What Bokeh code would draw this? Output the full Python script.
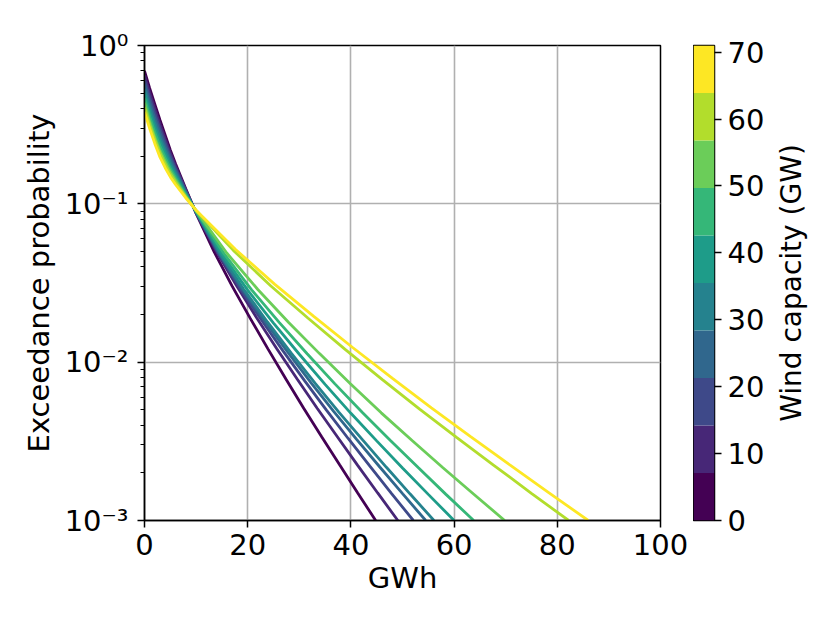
import math
from bokeh.plotting import figure
from bokeh.layouts import row
from bokeh.models import FixedTicker, CustomJSTickFormatter, Range1d
from bokeh.palettes import Viridis10
from bokeh.core.properties import value
from bokeh.embed import file_html
from bokeh.resources import INLINE

# ---------------- data ----------------
# colour-bar scale: wind capacity (GW), 10 equal bins from 0 to 71
cbar_low = 0.0
cbar_high = 71.0
cbar_ticks = [0, 10, 20, 30, 40, 50, 60, 70]

x_ticks = [0, 20, 40, 60, 80, 100]
y_ticks = [0.001, 0.01, 0.1, 1]

# energy (GWh) and log10(exceedance probability) for each of the 10 curves
gwh_0 = [0, 1, 2, 3, 4, 5, 6, 8, 10, 13.48, 16.96, 20.44, 23.92, 27.4, 30.88, 34.36, 37.84, 41.32, 44.8]
lp_0 = [-0.16, -0.27, -0.37, -0.47, -0.565, -0.66, -0.745, -0.905, -1.06, -1.302, -1.518, -1.720, -1.916, -2.106, -2.292, -2.472, -2.650, -2.826, -3.0]

gwh_1 = [0, 1, 2, 3, 4, 5, 6, 8, 10, 13.91, 17.82, 21.73, 25.64, 29.55, 33.46, 37.37, 41.28, 45.19, 49.1]
lp_1 = [-0.189, -0.30, -0.40, -0.498, -0.589, -0.679, -0.76, -0.912, -1.058, -1.300, -1.516, -1.719, -1.915, -2.105, -2.291, -2.471, -2.650, -2.826, -3.0]

gwh_2 = [0, 1, 2, 3, 4, 5, 6, 8, 10, 14.21, 18.42, 22.63, 26.84, 31.05, 35.26, 39.47, 43.68, 47.89, 52.1]
lp_2 = [-0.218, -0.33, -0.43, -0.525, -0.613, -0.699, -0.775, -0.918, -1.056, -1.307, -1.529, -1.732, -1.929, -2.118, -2.303, -2.482, -2.657, -2.830, -3.0]

gwh_3 = [0, 1, 2, 3, 4, 5, 6, 8, 10, 14.45, 18.9, 23.35, 27.8, 32.25, 36.7, 41.15, 45.6, 50.05, 54.5]
lp_3 = [-0.247, -0.36, -0.46, -0.553, -0.637, -0.718, -0.79, -0.925, -1.053, -1.312, -1.536, -1.742, -1.939, -2.129, -2.312, -2.489, -2.662, -2.832, -3.0]

gwh_4 = [0, 1, 2, 3, 4, 5, 6, 8, 10, 14.61, 19.22, 23.83, 28.44, 33.05, 37.66, 42.27, 46.88, 51.49, 56.1]
lp_4 = [-0.276, -0.39, -0.49, -0.581, -0.66, -0.738, -0.805, -0.932, -1.051, -1.313, -1.540, -1.746, -1.943, -2.132, -2.315, -2.491, -2.664, -2.833, -3.0]

gwh_5 = [0, 1, 2, 3, 4, 5, 6, 8, 10, 15, 20, 25, 30, 35, 40, 45, 50, 55, 60]
lp_5 = [-0.304, -0.42, -0.52, -0.609, -0.684, -0.757, -0.82, -0.938, -1.049, -1.317, -1.545, -1.753, -1.950, -2.140, -2.323, -2.497, -2.668, -2.835, -3.0]

gwh_6 = [0, 1, 2, 3, 4, 5, 6, 8, 10, 15.38, 20.76, 26.14, 31.52, 36.9, 42.28, 47.66, 53.04, 58.42, 63.8]
lp_6 = [-0.333, -0.45, -0.55, -0.637, -0.708, -0.777, -0.835, -0.945, -1.047, -1.313, -1.543, -1.750, -1.947, -2.137, -2.320, -2.495, -2.666, -2.835, -3.0]

gwh_7 = [0, 1, 2, 3, 4, 5, 6, 8, 10, 15.98, 21.96, 27.94, 33.92, 39.9, 45.88, 51.86, 57.84, 63.82, 69.8]
lp_7 = [-0.362, -0.48, -0.58, -0.664, -0.732, -0.796, -0.85, -0.952, -1.044, -1.312, -1.541, -1.749, -1.946, -2.136, -2.320, -2.495, -2.667, -2.834, -3.0]

gwh_8 = [0, 1, 2, 3, 4, 5, 6, 8, 10, 17.22, 24.44, 31.66, 38.88, 46.1, 53.32, 60.54, 67.76, 74.98, 82.2]
lp_8 = [-0.391, -0.50, -0.595, -0.68, -0.75, -0.812, -0.862, -0.957, -1.042, -1.294, -1.517, -1.721, -1.919, -2.110, -2.297, -2.477, -2.653, -2.828, -3.0]

gwh_9 = [0, 1, 2, 3, 4, 5, 6, 8, 10, 17.6, 25.2, 32.8, 40.4, 48, 55.6, 63.2, 70.8, 78.4, 86]
lp_9 = [-0.42, -0.525, -0.62, -0.705, -0.772, -0.83, -0.878, -0.963, -1.04, -1.287, -1.507, -1.711, -1.909, -2.101, -2.288, -2.470, -2.649, -2.825, -3.0]

curves_x = [gwh_0, gwh_1, gwh_2, gwh_3, gwh_4, gwh_5, gwh_6, gwh_7, gwh_8, gwh_9]
curves_lp = [lp_0, lp_1, lp_2, lp_3, lp_4, lp_5, lp_6, lp_7, lp_8, lp_9]
palette = list(Viridis10)

# ---------------- styling ----------------
FONT = "DejaVu Sans"
FS = "29px"
H = 608
TOP = 45
BOT = 88

p = figure(width=693, height=H, output_backend="svg", toolbar_location=None,
           y_axis_type="log", x_range=Range1d(0, 100), y_range=Range1d(0.001, 1))
p.min_border_left = 144
p.min_border_right = 33
p.min_border_top = TOP
p.min_border_bottom = BOT
p.background_fill_color = "white"
p.border_fill_color = "white"
p.outline_line_color = "black"
p.outline_line_width = 1.5
p.outline_line_alpha = 1.0

for xs, lps, col in zip(curves_x, curves_lp, palette):
    ys = [10 ** v for v in lps]
    p.line(xs, ys, line_color=col, line_width=2.8)

p.xaxis.ticker = FixedTicker(ticks=x_ticks)
minor = []
for d in [0.001, 0.01, 0.1]:
    for k in range(2, 10):
        minor.append(d * k)
p.yaxis.ticker = FixedTicker(ticks=y_ticks, minor_ticks=minor)
p.yaxis.formatter = CustomJSTickFormatter(code="""
const e = Math.round(Math.log10(tick));
const sup = {"0":"\u2070","1":"\u00b9","2":"\u00b2","3":"\u00b3","4":"\u2074","-":"\u207b"};
return "10" + String(e).split("").map(c => sup[c]).join("");
""")

p.xgrid.ticker = FixedTicker(ticks=x_ticks)
p.ygrid.ticker = FixedTicker(ticks=y_ticks)
p.grid.grid_line_color = "#b0b0b0"
p.grid.grid_line_width = 1.6

for ax in [p.xaxis[0], p.yaxis[0]]:
    ax.major_label_text_font = FONT
    ax.major_label_text_font_size = FS
    ax.major_label_text_color = "black"
    ax.axis_label_text_font = FONT
    ax.axis_label_text_font_size = FS
    ax.axis_label_text_font_style = "normal"
    ax.axis_label_text_color = "black"
    ax.axis_line_color = "black"
    ax.axis_line_width = 1.5
    ax.major_tick_line_color = "black"
    ax.major_tick_line_width = 1.5
    ax.major_tick_out = 7
    ax.major_tick_in = 0
    ax.minor_tick_line_color = "black"
    ax.minor_tick_line_width = 1.2
    ax.minor_tick_out = 4
    ax.minor_tick_in = 0
    ax.major_label_standoff = 6

p.xaxis.minor_tick_line_color = None
p.xaxis.axis_label = "GWh"
p.xaxis.axis_label_standoff = 3
p.yaxis.major_label_standoff = 9
p.yaxis.axis_label = "Exceedance probability"
p.yaxis.axis_label_standoff = 6

# ---------------- colour bar ----------------
cb = figure(width=74, height=H, output_backend="svg", toolbar_location=None,
            x_range=Range1d(0, 1), y_range=Range1d(cbar_low, cbar_high),
            x_axis_location=None, y_axis_location="right")
cb.min_border_left = 0
cb.min_border_right = 50
cb.min_border_top = TOP
cb.min_border_bottom = BOT
cb.grid.visible = False
cb.outline_line_color = "black"
cb.outline_line_width = 1.5
n = len(palette)
step = (cbar_high - cbar_low) / n
bottoms = [cbar_low + k * step for k in range(n)]
tops = [cbar_low + (k + 1) * step for k in range(n)]
cb.quad(left=0, right=1, bottom=bottoms, top=tops, fill_color=palette, line_color=None)
cax = cb.yaxis[0]
cax.ticker = FixedTicker(ticks=cbar_ticks)
cax.major_label_text_font = FONT
cax.major_label_text_font_size = FS
cax.major_label_text_color = "black"
cax.axis_line_color = None
cax.major_tick_line_color = "black"
cax.major_tick_line_width = 1.5
cax.major_tick_out = 7
cax.major_tick_in = 0
cax.minor_tick_line_color = None
cax.major_label_standoff = 6

# ---------------- colour-bar title ----------------
tf = figure(width=48, height=H, output_backend="svg", toolbar_location=None,
            x_range=Range1d(0, 1), y_range=Range1d(0, 1),
            x_axis_location=None, y_axis_location=None)
tf.min_border_left = 0
tf.min_border_right = 0
tf.min_border_top = TOP
tf.min_border_bottom = BOT
tf.grid.visible = False
tf.outline_line_color = None
tf.text(x=[0.5], y=[0.5], text=["Wind capacity (GW)"], angle=math.pi / 2,
        text_align="center", text_baseline="middle",
        text_font=value(FONT), text_font_size="28px", text_color="black")

layout = row(p, cb, tf)
open("out.html", "w").write(file_html(layout, INLINE))
